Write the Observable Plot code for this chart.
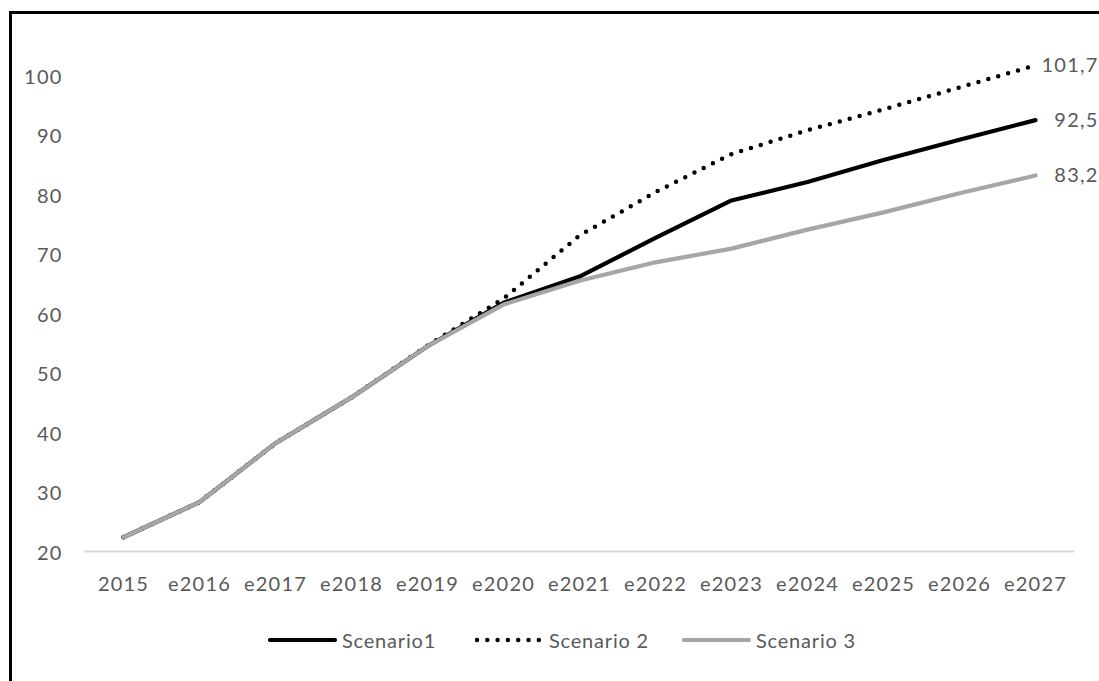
<!DOCTYPE html>
<html>
<head>
<meta charset="utf-8">
<script src="https://cdn.jsdelivr.net/npm/d3@7"></script>
<script src="https://cdn.jsdelivr.net/npm/@observablehq/plot@0.6"></script>
<style>
  html, body { margin: 0; padding: 0; background: #fff; width: 1099px; height: 681px; overflow: hidden; }
  #frame { position: absolute; left: 9px; top: 11px; width: 1200px; height: 800px; border-left: 3px solid #000; border-top: 3px solid #000; box-sizing: border-box; }
  #chart { position: absolute; left: 0; top: 0; }
  #legend { position: absolute; left: 268px; top: 628px; display: flex; font-family: Lato, "Open Sans", sans-serif; font-size: 20px; letter-spacing: 0.8px; color: #595959; }
  .item { width: 207px; display: flex; align-items: center; }
  .item svg { margin-right: 4px; }
</style>
</head>
<body>
<div id="frame"></div>
<div id="chart"></div>
<div id="legend"></div>
<script>
const categories = ["2015","e2016","e2017","e2018","e2019","e2020","e2021","e2022","e2023","e2024","e2025","e2026","e2027"];
const seriesNames = ["Scenario1", "Scenario 2", "Scenario 3"];
const scenario1 = [22.4, 28.3, 38.2, 45.9, 54.5, 61.8, 66.2, 72.7, 79.0, 82.1, 85.8, 89.2, 92.5];
const scenario2 = [22.4, 28.3, 38.2, 45.9, 54.6, 62.5, 73.1, 80.4, 86.8, 90.8, 94.3, 98.0, 101.7];
const scenario3 = [22.4, 28.3, 38.2, 45.9, 54.5, 61.5, 65.5, 68.6, 70.9, 74.1, 77.0, 80.2, 83.2];
const yTicks = [20, 30, 40, 50, 60, 70, 80, 90, 100];

const allSeries = [scenario1, scenario2, scenario3];
const rows = allSeries.flatMap((vals, i) => vals.map((v, j) => ({cat: categories[j], value: v, series: seriesNames[i]})));
const lastRows = allSeries.map((vals, i) => ({cat: categories[categories.length - 1], value: vals[vals.length - 1], series: seriesNames[i]}));
const styles = {
  "Scenario1": {stroke: "#000000", strokeWidth: 4.2, dash: null, cap: "round"},
  "Scenario 2": {stroke: "#000000", strokeWidth: 4.5, dash: "0,10.3", cap: "round"},
  "Scenario 3": {stroke: "#a6a6a6", strokeWidth: 4.2, dash: null, cap: "round"}
};
const fmt = v => String(v).replace(".", ",");
const font = 'Lato, "Open Sans", sans-serif';

const lineMarks = seriesNames.map(name => Plot.line(rows.filter(r => r.series === name), {
  x: "cat", y: "value",
  stroke: styles[name].stroke,
  strokeWidth: styles[name].strokeWidth,
  strokeDasharray: styles[name].dash,
  strokeLinecap: styles[name].cap,
  strokeLinejoin: "round"
}));

const chart = Plot.plot({
  width: 1099,
  height: 610,
  marginLeft: 84,
  marginRight: 25,
  marginTop: 75,
  marginBottom: 59,
  style: {fontFamily: font, fontSize: "20px", color: "#595959", background: "transparent", letterSpacing: "1.2px"},
  x: {type: "point", domain: categories, padding: 0.5},
  y: {domain: [20, 100]},
  marks: [
    Plot.ruleY([20], {stroke: "#d9d9d9", strokeWidth: 2}),
    Plot.axisX({tickSize: 0, tickPadding: 25, label: null, fill: "#595959", fontSize: 20}),
    Plot.axisY({ticks: yTicks, tickSize: 0, tickPadding: 22, label: null, fill: "#595959", fontSize: 20, dy: 2}),
    ...lineMarks,
    Plot.text(lastRows, {x: "cat", y: "value", text: d => fmt(d.value), textAnchor: "end", dx: 63, fill: "#595959", fontSize: 20})
  ]
});
document.getElementById("chart").appendChild(chart);

const legend = document.getElementById("legend");
seriesNames.forEach(name => {
  const st = styles[name];
  const item = document.createElement("div");
  item.className = "item";
  const sw = d3.create("svg").attr("width", 70).attr("height", 20);
  sw.append("line").attr("x1", 2).attr("x2", 67).attr("y1", 10).attr("y2", 10)
    .attr("stroke", st.stroke).attr("stroke-width", st.strokeWidth)
    .attr("stroke-linecap", st.cap)
    .attr("stroke-dasharray", st.dash);
  item.appendChild(sw.node());
  const t = document.createElement("span");
  t.textContent = name;
  item.appendChild(t);
  legend.appendChild(item);
});
</script>
</body>
</html>
